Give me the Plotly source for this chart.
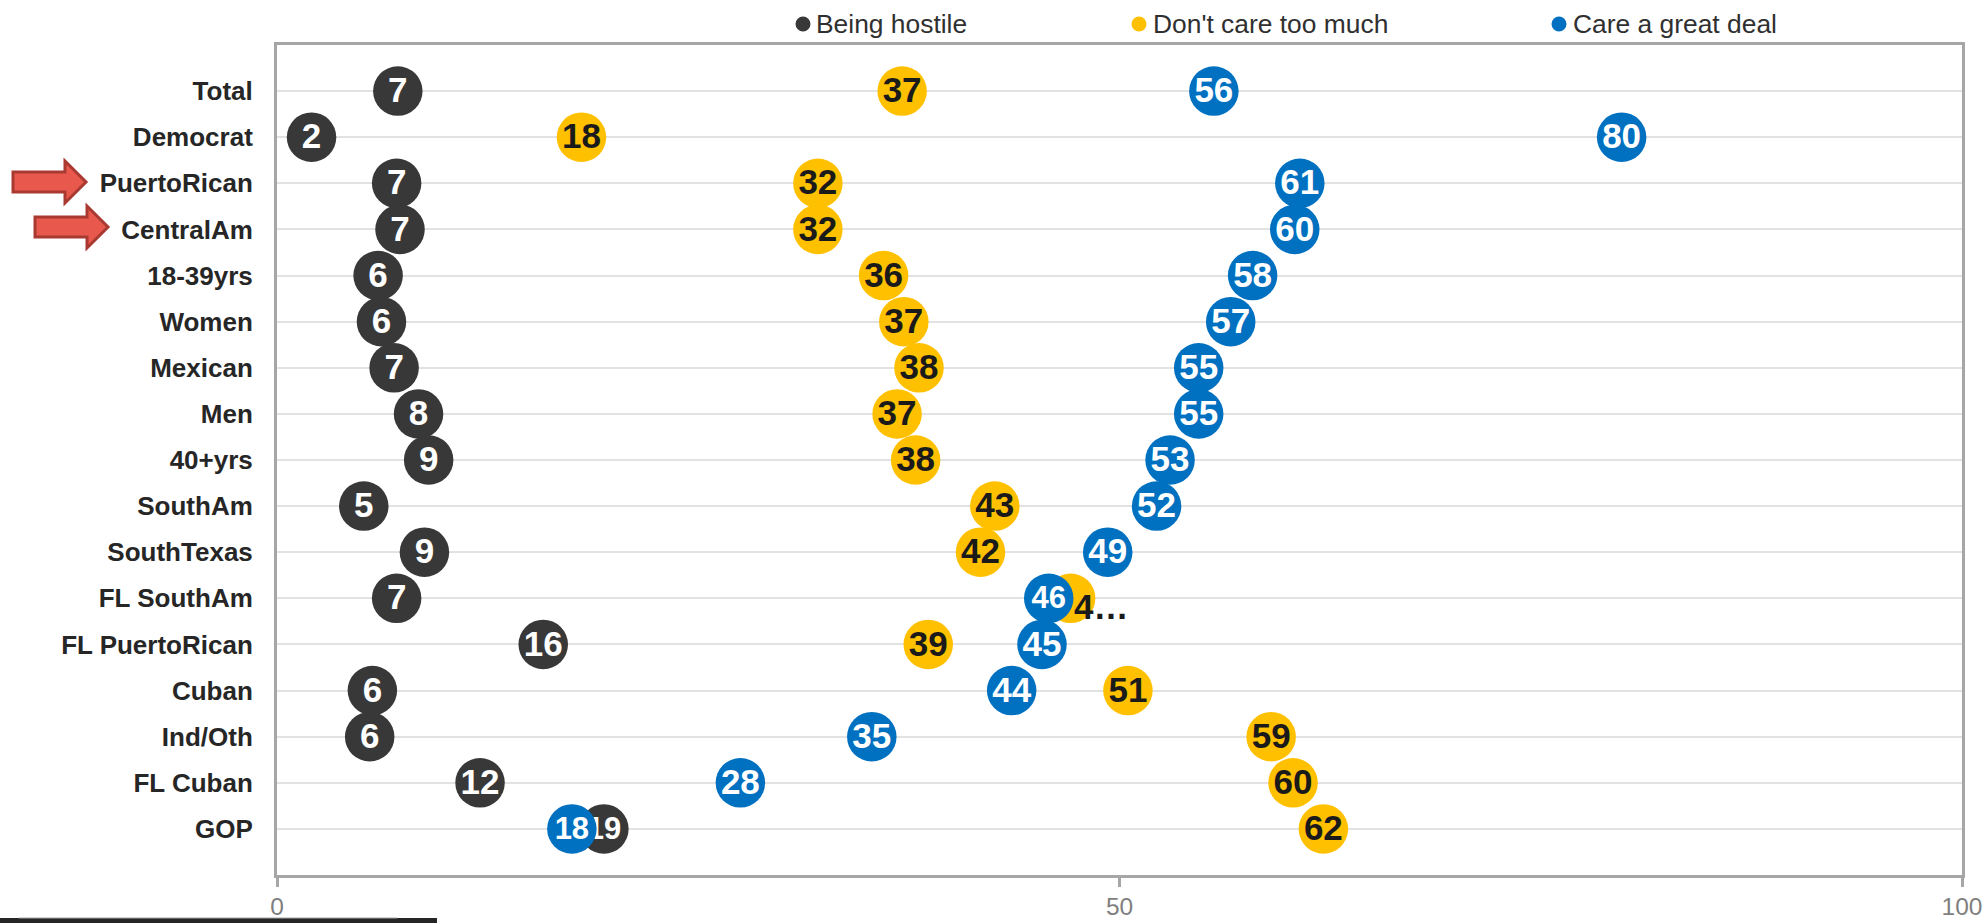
import plotly.graph_objects as go

categories = ["Total", "Democrat", "PuertoRican", "CentralAm", "18-39yrs", "Women", "Mexican", "Men",
              "40+yrs", "SouthAm", "SouthTexas", "FL SouthAm", "FL PuertoRican", "Cuban", "Ind/Oth",
              "FL Cuban", "GOP"]
hostile = [7.17, 2.05, 7.1, 7.3, 6.0, 6.2, 6.95, 8.4, 9.0, 5.15, 8.75, 7.1, 15.8, 5.66, 5.5, 12.05, 19.4]
dont_care = [37.1, 18.07, 32.1, 32.1, 36.0, 37.2, 38.1, 36.8, 37.9, 42.6, 41.75, 47.1, 38.65, 50.5, 59.0, 60.3, 62.1]
care = [55.6, 79.8, 60.7, 60.4, 57.9, 56.6, 54.7, 54.7, 53.0, 52.2, 49.3, 45.8, 45.4, 43.6, 35.3, 27.5, 17.5]
hostile_labels = ["7", "2", "7", "7", "6", "6", "7", "8", "9", "5", "9", "7", "16", "6", "6", "12", "19"]
dont_care_labels = ["37", "18", "32", "32", "36", "37", "38", "37", "38", "43", "42", "", "39", "51", "59", "60", "62"]
care_labels = ["56", "80", "61", "60", "58", "57", "55", "55", "53", "52", "49", "46", "45", "44", "35", "28", "18"]
truncated_label = "4…"
truncated_row = "FL SouthAm"
x_ticks = [0, 50, 100]

W, H = 1986, 923
L, R, T, B = 277, 1962, 45, 875
FONT = "Liberation Sans"
GREY = "#A6A6A6"
BLACK, GOLD, BLUE = "#383838", "#FFC000", "#0070C0"
rows = list(range(len(categories)))
TEXT_NUDGE = 0.05  # rows; recentres digits on their discs


def px(x):
    return (x - L) / (R - L)


def py(y):
    return (B - y) / (B - T)


def sizes(labels, small):
    return [31 if i in small else 35 for i in range(len(labels))]


fig = go.Figure()
for name, vals, labels, colour, tcolour, small in [
    ("Being hostile", hostile, hostile_labels, BLACK, "#FFFFFF", {16}),
    ("Don't care too much", dont_care, dont_care_labels, GOLD, "#1A1A1A", set()),
    ("Care a great deal", care, care_labels, BLUE, "#FFFFFF", {11, 16}),
]:
    fig.add_trace(go.Scatter(
        x=vals, y=rows, name=name, mode="markers", cliponaxis=False, showlegend=False,
        marker=dict(size=49.5, color=colour, line=dict(width=0)),
    ))
    fig.add_trace(go.Scatter(
        x=vals, y=[r + TEXT_NUDGE for r in rows], name=name, mode="text", text=labels,
        textposition="middle center", cliponaxis=False, showlegend=False, hoverinfo="skip",
        textfont=dict(family=FONT, size=sizes(labels, small), color=tcolour, weight=700),
    ))

fig.add_annotation(
    x=dont_care[categories.index(truncated_row)], y=categories.index(truncated_row),
    text=f"<b>{truncated_label}</b>",
    xanchor="left", yanchor="middle", showarrow=False, xshift=1, yshift=-8,
    font=dict(family=FONT, size=35, color="#1A1A1A"),
)

legend_items = [("Being hostile", BLACK, 803, 816), ("Don't care too much", GOLD, 1139, 1153),
                ("Care a great deal", BLUE, 1559, 1573)]
shapes = []
for text, colour, mx, tx in legend_items:
    shapes.append(dict(type="circle", xref="paper", yref="paper", x0=px(mx - 7.5), x1=px(mx + 7.5),
                       y0=py(24 + 7.5), y1=py(24 - 7.5), fillcolor=colour, line_width=0))
    fig.add_annotation(xref="paper", yref="paper", x=px(tx), y=py(24), text=text, showarrow=False,
                       xanchor="left", yanchor="middle", xshift=-2,
                       font=dict(family=FONT, size=26.4, color="#303030"))

for x0, xh, x1, cy in [(13, 65, 86, 182), (35, 87, 108, 227)]:
    path = (f"M{px(x0)},{py(cy - 10)} L{px(xh)},{py(cy - 10)} L{px(xh)},{py(cy - 21)} L{px(x1)},{py(cy)} "
            f"L{px(xh)},{py(cy + 21)} L{px(xh)},{py(cy + 10)} L{px(x0)},{py(cy + 10)} Z")
    shapes.append(dict(type="path", xref="paper", yref="paper", path=path, fillcolor="#E8584D",
                       line=dict(color="#A83A32", width=3)))

shapes.append(dict(type="rect", xref="paper", yref="paper", x0=px(0), x1=px(437), y0=py(923), y1=py(918),
                   fillcolor="#262626", line_width=0))
shapes.append(dict(type="rect", xref="paper", yref="paper", x0=px(19), x1=px(397), y0=py(918.5), y1=py(917.5),
                   fillcolor="#A6A6A6", line_width=0))

fig.update_layout(
    width=W, height=H, autosize=False, paper_bgcolor="white", plot_bgcolor="white",
    margin=dict(l=L, r=W - R, t=T, b=H - B, pad=0, autoexpand=False), shapes=shapes, showlegend=False,
    xaxis=dict(range=[0, 100], tickvals=x_ticks, ticks="outside", ticklen=9, tickwidth=3, tickcolor=GREY,
               automargin=False, ticklabeloverflow="allow",
               showgrid=False, zeroline=False, showline=True, linecolor=GREY, linewidth=3, mirror=True,
               ticklabelstandoff=-1, tickfont=dict(family=FONT, size=24.5, color="#7F7F7F")),
    yaxis=dict(tickvals=rows, ticktext=categories, range=[17, -1], automargin=False,
               showgrid=True, gridcolor="#E2E2E2", gridwidth=1.5, zeroline=False, ticks="",
               showline=True, linecolor=GREY, linewidth=3, mirror=True, ticklabelstandoff=16,
               tickfont=dict(family=FONT, size=26, color="#262626", weight=700)),
)
fig.write_html(
    "out.html", config={"displayModeBar": False},
    post_script="document.documentElement.style.margin='0';document.body.style.margin='0';",
)
